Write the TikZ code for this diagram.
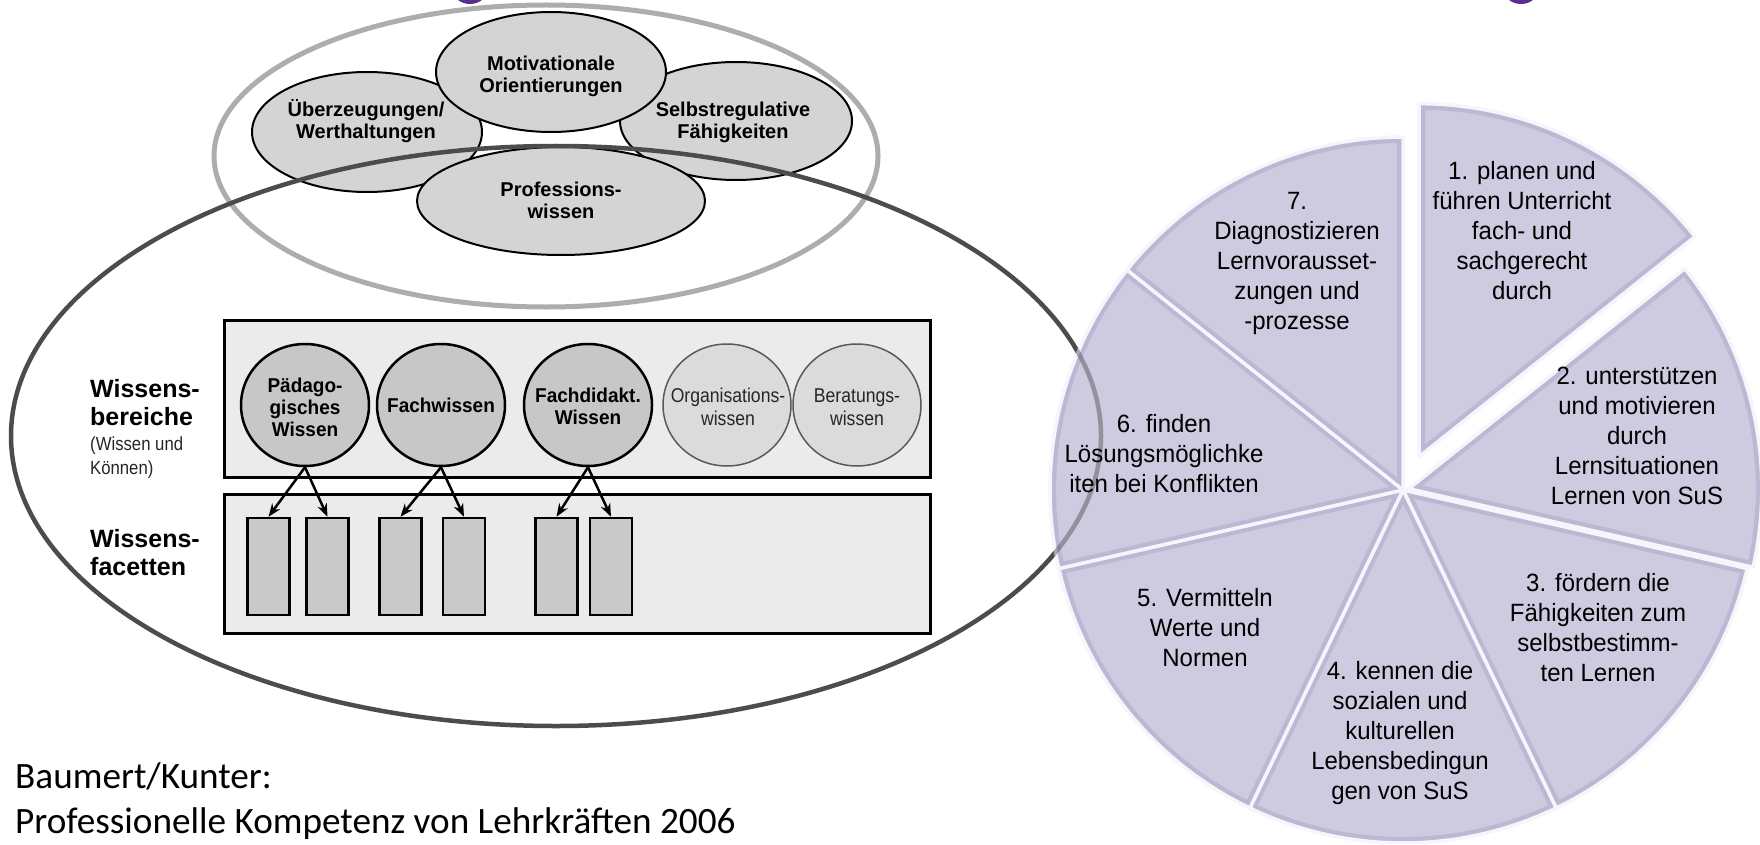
\documentclass[tikz,border=0pt]{standalone}
\usepackage{fontspec}
\setmainfont{Liberation Sans}
\newfontfamily\narrowf[FakeStretch=0.88]{Liberation Sans}
\newfontfamily\narrowb[FakeStretch=0.95]{Liberation Sans}
\newfontfamily\pief[FakeStretch=0.96]{Liberation Sans}
\newfontfamily\citef{Carlito}
\usetikzlibrary{shapes.geometric,arrows.meta}
\definecolor{lav}{RGB}{206,202,224}
\definecolor{lavdark}{RGB}{176,171,202}
\definecolor{lavlight}{RGB}{246,245,251}
\definecolor{ttl}{RGB}{90,45,145}
\tikzset{
  grayell/.style={draw=black!32, line width=5pt},
  bigell/.style={draw=black!70, line width=4.5pt},
  topell/.style={ellipse, draw=black, line width=2pt, fill=black!17, inner sep=0pt},
  toptxt/.style={font=\fontsize{20}{22}\selectfont\bfseries, align=center, inner sep=0pt},
  kbox/.style={rectangle, draw=black, line width=3pt, fill=black!8, inner sep=0pt},
  kcirc/.style={ellipse, draw=black, line width=2.5pt, fill=black!22, inner sep=0pt, minimum width=128, minimum height=122},
  kcircl/.style={ellipse, draw=black!65, line width=1.5pt, fill=black!14, inner sep=0pt, minimum width=128, minimum height=122},
  kcirct/.style={font=\narrowb\fontsize{20}{22}\selectfont\bfseries, align=center, inner sep=0pt},
  kcirctl/.style={font=\narrowf\fontsize{20}{23}\selectfont, align=center, inner sep=0pt, text=black!85},
  facet/.style={rectangle, draw=black, line width=2.5pt, fill=black!21, inner sep=0pt, minimum width=42, minimum height=97},
  arr/.style={line width=2.5pt, -{Stealth[length=13pt,width=10pt]}},
  lbl/.style={font=\fontsize{25}{28}\selectfont\bfseries, inner sep=0pt, anchor=base west},
  lbls/.style={font=\narrowf\fontsize{19}{22}\selectfont, inner sep=0pt, anchor=base west, text=black!85},
  pietxt/.style={font=\pief\fontsize{25}{30}\selectfont, align=center, inner sep=0pt},
  cite/.style={font=\citef\fontsize{37.2}{45}\selectfont, inner sep=0pt, anchor=base west},
}
\begin{document}
\begin{tikzpicture}[x=1pt,y=-1pt]
\useasboundingbox (0,0) rectangle (1760,845);
\fill[white] (0,0) rectangle (1760,845);
% title fragments
\fill[ttl] (470,-10) ellipse [x radius=17, y radius=14];
\fill[ttl] (1521,-10) ellipse [x radius=17, y radius=14];
% outer gray ellipse
\draw[grayell] (546,156) ellipse [x radius=332, y radius=151];
% top ellipses
\node[topell, minimum width=232, minimum height=118] (selb) at (736,121) {};
\node[topell, minimum width=230, minimum height=120] (ueber) at (367,132) {};
\node[topell, minimum width=230, minimum height=120] (moti) at (551,72) {};
\node[topell, minimum width=288, minimum height=108] (prof) at (561,201) {};
\node[toptxt] (selbt) at (733,122) {Selbstregulative\\Fähigkeiten};
\node[toptxt] (uebert) at (366,121) {Überzeugungen/\\Werthaltungen};
\node[toptxt] (motit) at (551,76) {Motivationale\\Orientierungen};
\node[toptxt] (proft) at (561,200) {Professions-\\wissen};
% boxes
\node[kbox, minimum width=706, minimum height=157] (wbox) at (577,398.5) {};
\node[kbox, minimum width=706, minimum height=139] (fbox) at (577,563.5) {};
% circles
\node[kcirc] (pad) at (305,405) {};
\node[kcirc] (fach) at (441,405) {};
\node[kcirc] (fdid) at (588,405) {};
\node[kcircl] (org) at (727,405) {};
\node[kcircl] (ber) at (857,405) {};
\node[kcirct] (padt) at (305,407) {Pädago-\\gisches\\Wissen};
\node[kcirct] (facht) at (441,405) {Fachwissen};
\node[kcirct] (fdidt) at (588,406) {Fachdidakt.\\Wissen};
\node[kcirctl] (orgt) at (728,407) {Organisations-\\wissen};
\node[kcirctl] (bert) at (857,407) {Beratungs-\\wissen};
% facets
\node[facet] (f1) at (268.5,566.5) {};
\node[facet] (f2) at (327.5,566.5) {};
\node[facet] (f3) at (400.5,566.5) {};
\node[facet] (f4) at (464,566.5) {};
\node[facet] (f5) at (556.5,566.5) {};
\node[facet] (f6) at (611,566.5) {};
\draw[arr] (pad.south) -- (f1.north);
\draw[arr] (pad.south) -- (f2.north);
\draw[arr] (fach.south) -- (f3.north);
\draw[arr] (fach.south) -- (f4.north);
\draw[arr] (fdid.south) -- (f5.north);
\draw[arr] (fdid.south) -- (f6.north);
% left labels
\node[lbl] (l1) at (90,397) {Wissens-};
\node[lbl] (l2) at (90,425) {bereiche};
\node[lbls] (l3) at (90,450) {(Wissen und};
\node[lbls] (l4) at (90,474) {Können)};
\node[lbl] (l5) at (90,547) {Wissens-};
\node[lbl] (l6) at (90,575) {facetten};
% big dark ellipse
\draw[bigell] (556,436) ellipse [x radius=545, y radius=290];
% pie
\foreach \k/\s in {1/37,2/6,3/0,4/0,5/0,6/0,7/0} {
  \pgfmathsetmacro\aone{-90+(\k-1)*360/7}
  \pgfmathsetmacro\atwo{-90+\k*360/7}
  \pgfmathsetmacro\bis{-90+(\k-0.5)*360/7}
  \begin{scope}[shift={(\bis:\s)}]
    \fill[lav] (1403,490) -- ++(\aone:353) arc[start angle=\aone, end angle=\atwo, radius=353] -- cycle;
    \begin{scope}
      \clip (1403,490) -- ++(\aone:353) arc[start angle=\aone, end angle=\atwo, radius=353] -- cycle;
      \draw[lavdark, line width=12pt, opacity=0.6] (1403,490) -- ++(\aone:353) arc[start angle=\aone, end angle=\atwo, radius=353] -- cycle;
    \end{scope}
    \draw[lavlight, line width=3.5pt, line join=round] (1403,490) -- ++(\aone:353) arc[start angle=\aone, end angle=\atwo, radius=353] -- cycle;
  \end{scope}
}
\begin{scope}
  \clip (1403,490) circle [radius=360];
  \draw[bigell, opacity=0.45] (556,436) ellipse [x radius=545, y radius=290];
\end{scope}
% pie texts
\node[pietxt] (s7) at (1297,263) {7.\\Diagnostizieren\\Lernvorausset-\\zungen und\\-prozesse};
\node[pietxt] (s1) at (1522,231) {1. planen und\\führen Unterricht\\fach- und\\sachgerecht\\durch};
\node[pietxt] (s2) at (1637,436) {2. unterstützen\\und motivieren\\durch\\Lernsituationen\\Lernen von SuS};
\node[pietxt] (s3) at (1598,628) {3. fördern die\\Fähigkeiten zum\\selbstbestimm-\\ten Lernen};
\node[pietxt] (s4) at (1400,733) {4. kennen die\\sozialen und\\kulturellen\\Lebensbedingun\\gen von SuS};
\node[pietxt] (s5) at (1205,628) {5. Vermitteln\\Werte und\\Normen};
\node[pietxt] (s6) at (1164,454) {6. finden\\Lösungsmöglichke\\iten bei Konflikten};
% citation
\node[cite] (c1) at (15,788) {Baumert/Kunter:};
\node[cite] (c2) at (15,833) {Professionelle Kompetenz von Lehrkräften 2006};
\end{tikzpicture}
\end{document}
